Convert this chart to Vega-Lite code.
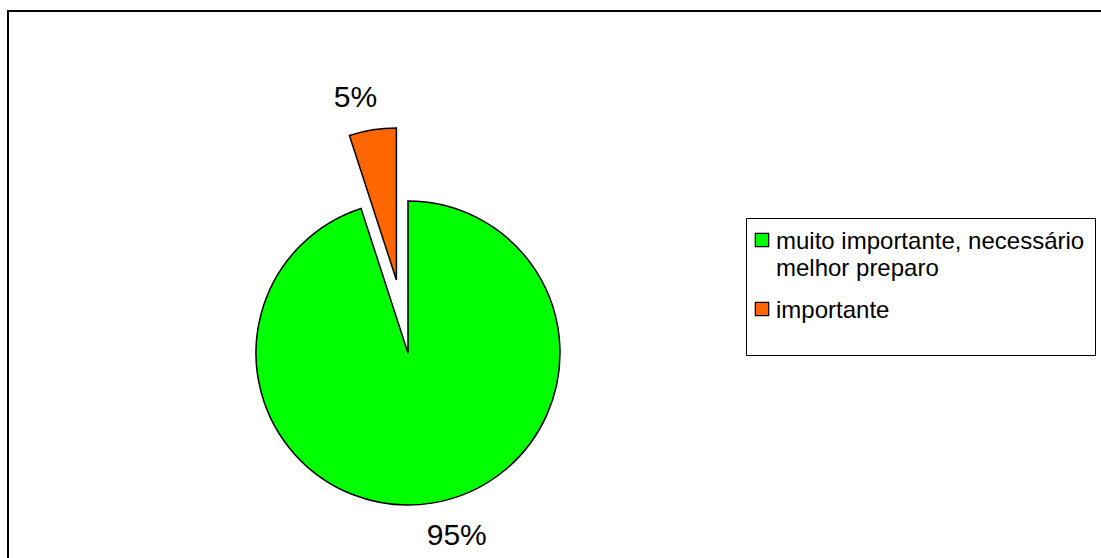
{
  "$schema": "https://vega.github.io/schema/vega-lite/v6.json",
  "width": 1113,
  "height": 567,
  "autosize": {"type": "none"},
  "padding": {"left": 8, "top": 11, "right": -20, "bottom": -20},
  "background": "white",
  "view": {"stroke": "black", "strokeWidth": 2, "fill": "white"},
  "config": {
    "view": {"stroke": "black", "strokeWidth": 2},
    "font": "Liberation Sans"
  },
  "data": {
    "values": [
      {"category": "muito importante, necessário melhor preparo", "percent": 95, "label": "95%", "ord": 1},
      {"category": "importante", "percent": 5, "label": "5%", "ord": 2}
    ]
  },
  "encoding": {
    "theta": {"field": "percent", "type": "quantitative", "stack": true},
    "order": {"field": "ord", "type": "quantitative"}
  },
  "layer": [
    {
      "mark": {"type": "arc", "x": 400, "y": 342, "outerRadius": 152, "stroke": "black", "strokeWidth": 1.5},
      "encoding": {
        "color": {
          "field": "category", "type": "nominal",
          "scale": {"domain": ["muito importante, necessário melhor preparo", "importante"], "range": ["#00FF00", "#FF6600"]},
          "legend": {
            "title": " ",
            "titleOrient": "bottom",
            "titleFontSize": 8,
            "titlePadding": 14,
            "orient": "none",
            "legendX": 738,
            "legendY": 207,
            "padding": 10,
            "strokeColor": "black",
            "fillColor": "white",
            "cornerRadius": 0,
            "symbolType": "square",
            "symbolSize": 180,
            "symbolStrokeColor": "black",
            "symbolStrokeWidth": 1.2,
            "symbolOpacity": 1,
            "symbolOffset": -6,
            "labelFont": "Liberation Sans",
            "labelFontSize": 24,
            "labelColor": "black",
            "labelLimit": 1000,
            "labelOffset": 2,
            "labelBaseline": "top",
            "rowPadding": 16,
            "labelExpr": "datum.label == 'importante' ? 'importante' : ['muito importante, necessário\u00a0\u00a0\u00a0\u00a0\u00a0\u00a0', 'melhor preparo']",
            "encode": {"labels": {"update": {"dy": {"value": -10}, "lineHeight": {"value": 27}}}}
          }
        },
        "opacity": {"condition": {"test": "datum.ord == 2", "value": 0}, "value": 1}
      }
    },
    {
      "mark": {"type": "arc", "x": 400, "y": 342, "outerRadius": 152, "stroke": "black", "strokeWidth": 1.5, "xOffset": -11.6, "yOffset": -73},
      "encoding": {
        "color": {"field": "category", "type": "nominal"},
        "opacity": {"condition": {"test": "datum.ord == 1", "value": 0}, "value": 1}
      }
    },
    {
      "mark": {"type": "text", "x": 400, "y": 342, "radius": 190, "fontSize": 30, "font": "Liberation Sans", "fill": "black", "dx": 19, "dy": -5},
      "encoding": {
        "text": {"field": "label"},
        "opacity": {"condition": {"test": "datum.ord == 2", "value": 0}, "value": 1}
      }
    },
    {
      "mark": {"type": "text", "x": 400, "y": 342, "radius": 185, "fontSize": 30, "font": "Liberation Sans", "fill": "black", "xOffset": -11.6, "yOffset": -73, "dx": -12, "dy": 1},
      "encoding": {
        "text": {"field": "label"},
        "opacity": {"condition": {"test": "datum.ord == 1", "value": 0}, "value": 1}
      }
    }
  ]
}
